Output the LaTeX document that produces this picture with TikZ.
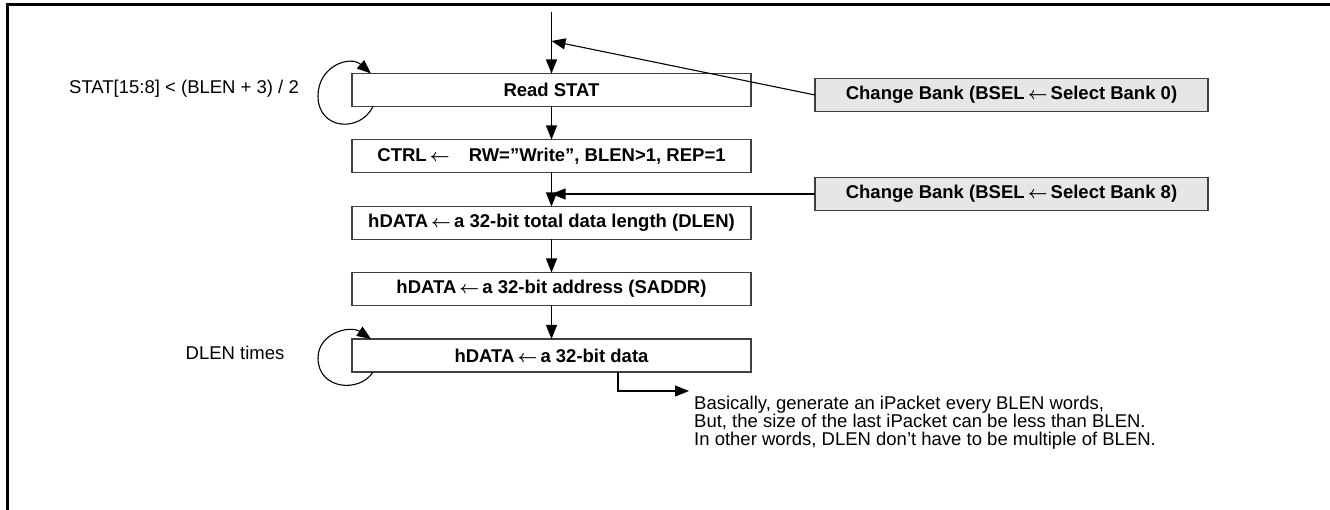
\documentclass[tikz,border=0pt]{standalone}
\usepackage{fontspec}
\setmainfont{Liberation Sans}
\usetikzlibrary{arrows.meta,calc}
\definecolor{boxc}{HTML}{404040}
\definecolor{bankfill}{HTML}{E6E6E6}
\newcommand{\lar}{\,{\boldmath$\leftarrow$}\,}
\tikzset{
  flowbox/.style={draw=boxc, line width=1.2pt, minimum width=399pt, minimum height=33pt,
    inner sep=0pt, outer sep=0pt, font=\bfseries\fontsize{18.5}{20}\selectfont},
  bankbox/.style={flowbox, fill=bankfill, minimum width=393pt},
  arr/.style={-{Triangle[length=14pt,width=11pt]}, line width=1.1pt},
  lbl/.style={font=\fontsize{18.5}{20}\selectfont, inner sep=0pt}
}
\begin{document}
\begin{tikzpicture}[x=1pt,y=-1pt]
\path[use as bounding box] (0,0) rectangle (1330,510);
\draw[line width=3pt] (1330,5) -- (7,5) -- (7,510);

\node[flowbox] (read) at (551.5,90) {Read STAT};
\node[flowbox] (ctrl) at (551.5,156) {CTRL\lar\hspace{16pt}RW=”Write”, BLEN>1, REP=1};
\node[flowbox] (dlen) at (551.5,223) {hDATA\lar a 32-bit total data length (DLEN)};
\node[flowbox] (saddr) at (551.5,289) {hDATA\lar a 32-bit address (SADDR)};
\node[flowbox] (data) at (551.5,355.5) {hDATA\lar a 32-bit data};
\node[bankbox] (b0) at (1011.5,95) {Change Bank (BSEL\lar Select Bank 0)};
\node[bankbox] (b8) at (1011.5,194) {Change Bank (BSEL\lar Select Bank 8)};

\coordinate (start) at (551.5,12);
\coordinate (j0) at (551.5,41);
\coordinate (j8) at (551.5,194);

\node[lbl] (statlbl) at (184,89) {STAT[15:8] < (BLEN + 3) / 2};
\node[lbl] (dlenlbl) at (235,353) {DLEN times};
\node[lbl, anchor=north west, align=left, font=\fontsize{18.5}{18}\selectfont] (note) at (694,396)
  {Basically, generate an iPacket every BLEN words,\\
   But, the size of the last iPacket can be less than BLEN.\\
   In other words, DLEN don’t have to be multiple of BLEN.};
\coordinate (ntip) at (689,391);

\draw[arr] (start) -- (read.north);
\draw[arr] (read.south) -- (ctrl.north);
\draw[arr] (ctrl.south) -- (dlen.north);
\draw[arr] (dlen.south) -- (saddr.north);
\draw[arr] (saddr.south) -- (data.north);
\draw[arr] (b0.west) -- (j0);
\draw[arr] (b8.west) -- (j8);

\draw[arr] ($(read.south west)+(21,0)$) .. controls (360,133) and (318,130) .. (318,96)
  .. controls (318,66) and (350,55) .. ($(read.north west)+(19,0)$);
\draw[arr] ($(data.south west)+(21,0)$) .. controls (360,393) and (318,390) .. (318,358)
  .. controls (318,333) and (350,325) .. ($(data.north west)+(19,0)$);

\draw[arr] ($(data.south west)+(266,0)$) |- (ntip);
\end{tikzpicture}
\end{document}
